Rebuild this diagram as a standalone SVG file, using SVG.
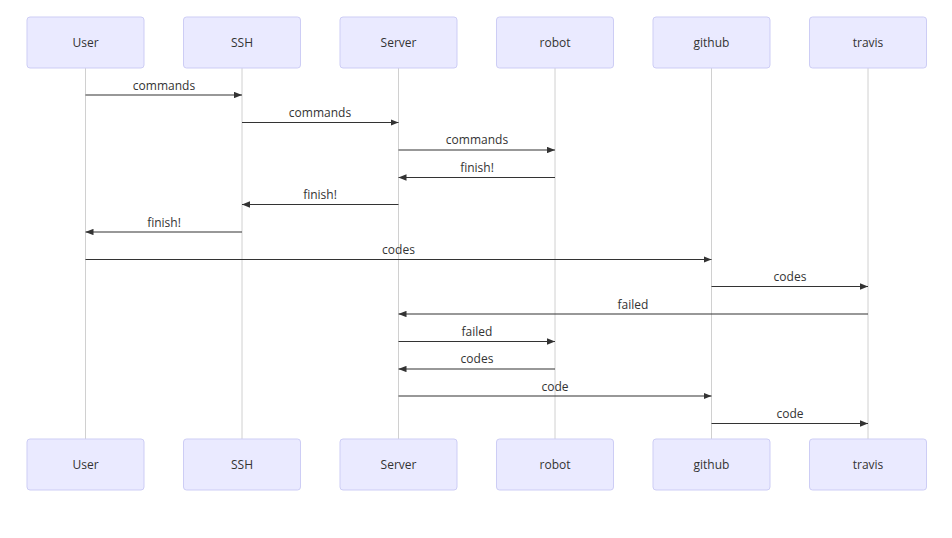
<svg xmlns="http://www.w3.org/2000/svg" width="952" height="538" viewBox="0 0 952 538">
<style>
.actor{fill:#eaeaff;stroke:#cdcdf5;stroke-width:1}
.atext{font-family:"Open Sans","Noto Sans",sans-serif;font-size:12px;fill:#333;text-anchor:middle;dominant-baseline:central}
.life{stroke:#d0d0d0;stroke-width:1}
.msg{stroke:#333;stroke-width:1.2;fill:none;marker-end:url(#ah)}
.mtext{font-family:"Open Sans","Noto Sans",sans-serif;font-size:12px;fill:#333;text-anchor:middle}
</style>
<defs>
<marker id="ah" viewBox="0 0 10 8" refX="10" refY="4" markerWidth="8" markerHeight="6.4" markerUnits="userSpaceOnUse" orient="auto">
<path d="M0,0 L10,4 L0,8 z" fill="#333"/>
</marker>
</defs>
<rect width="952" height="538" fill="#fff"/>
<g id="lifelines">
<line class="life" x1="85.5" y1="68" x2="85.5" y2="439"/>
<line class="life" x1="242" y1="68" x2="242" y2="439"/>
<line class="life" x1="398.5" y1="68" x2="398.5" y2="439"/>
<line class="life" x1="555" y1="68" x2="555" y2="439"/>
<line class="life" x1="711.5" y1="68" x2="711.5" y2="439"/>
<line class="life" x1="868" y1="68" x2="868" y2="439"/>
</g>
<g id="user"><rect class="actor" x="27" y="17" width="117" height="51" rx="3"/><text class="atext" x="85.5" y="42.5">User</text><rect class="actor" x="27" y="439" width="117" height="51" rx="3"/><text class="atext" x="85.5" y="464.5">User</text></g>
<g id="ssh"><rect class="actor" x="183.5" y="17" width="117" height="51" rx="3"/><text class="atext" x="242" y="42.5">SSH</text><rect class="actor" x="183.5" y="439" width="117" height="51" rx="3"/><text class="atext" x="242" y="464.5">SSH</text></g>
<g id="server"><rect class="actor" x="340" y="17" width="117" height="51" rx="3"/><text class="atext" x="398.5" y="42.5">Server</text><rect class="actor" x="340" y="439" width="117" height="51" rx="3"/><text class="atext" x="398.5" y="464.5">Server</text></g>
<g id="robot"><rect class="actor" x="496.5" y="17" width="117" height="51" rx="3"/><text class="atext" x="555" y="42.5">robot</text><rect class="actor" x="496.5" y="439" width="117" height="51" rx="3"/><text class="atext" x="555" y="464.5">robot</text></g>
<g id="github"><rect class="actor" x="653" y="17" width="117" height="51" rx="3"/><text class="atext" x="711.5" y="42.5">github</text><rect class="actor" x="653" y="439" width="117" height="51" rx="3"/><text class="atext" x="711.5" y="464.5">github</text></g>
<g id="travis"><rect class="actor" x="809.5" y="17" width="117" height="51" rx="3"/><text class="atext" x="868" y="42.5">travis</text><rect class="actor" x="809.5" y="439" width="117" height="51" rx="3"/><text class="atext" x="868" y="464.5">travis</text></g>
<g id="connectors">
<line class="msg" x1="85.5" y1="95" x2="242" y2="95"/><text class="mtext" x="164" y="90">commands</text>
<line class="msg" x1="242" y1="122.5" x2="398.5" y2="122.5"/><text class="mtext" x="320" y="117">commands</text>
<line class="msg" x1="398.5" y1="150" x2="555" y2="150"/><text class="mtext" x="477" y="144">commands</text>
<line class="msg" x1="555" y1="177.5" x2="398.5" y2="177.5"/><text class="mtext" x="477" y="172">finish!</text>
<line class="msg" x1="398.5" y1="204.5" x2="242" y2="204.5"/><text class="mtext" x="320" y="199">finish!</text>
<line class="msg" x1="242" y1="232" x2="85.5" y2="232"/><text class="mtext" x="164" y="227">finish!</text>
<line class="msg" x1="85.5" y1="259.5" x2="711.5" y2="259.5"/><text class="mtext" x="398.5" y="254">codes</text>
<line class="msg" x1="711.5" y1="286.5" x2="868" y2="286.5"/><text class="mtext" x="790" y="281">codes</text>
<line class="msg" x1="868" y1="314" x2="398.5" y2="314"/><text class="mtext" x="633" y="309">failed</text>
<line class="msg" x1="398.5" y1="341.5" x2="555" y2="341.5"/><text class="mtext" x="477" y="336">failed</text>
<line class="msg" x1="555" y1="369" x2="398.5" y2="369"/><text class="mtext" x="477" y="363">codes</text>
<line class="msg" x1="398.5" y1="396" x2="711.5" y2="396"/><text class="mtext" x="555" y="391">code</text>
<line class="msg" x1="711.5" y1="423.5" x2="868" y2="423.5"/><text class="mtext" x="790" y="418">code</text>
</g>
</svg>
